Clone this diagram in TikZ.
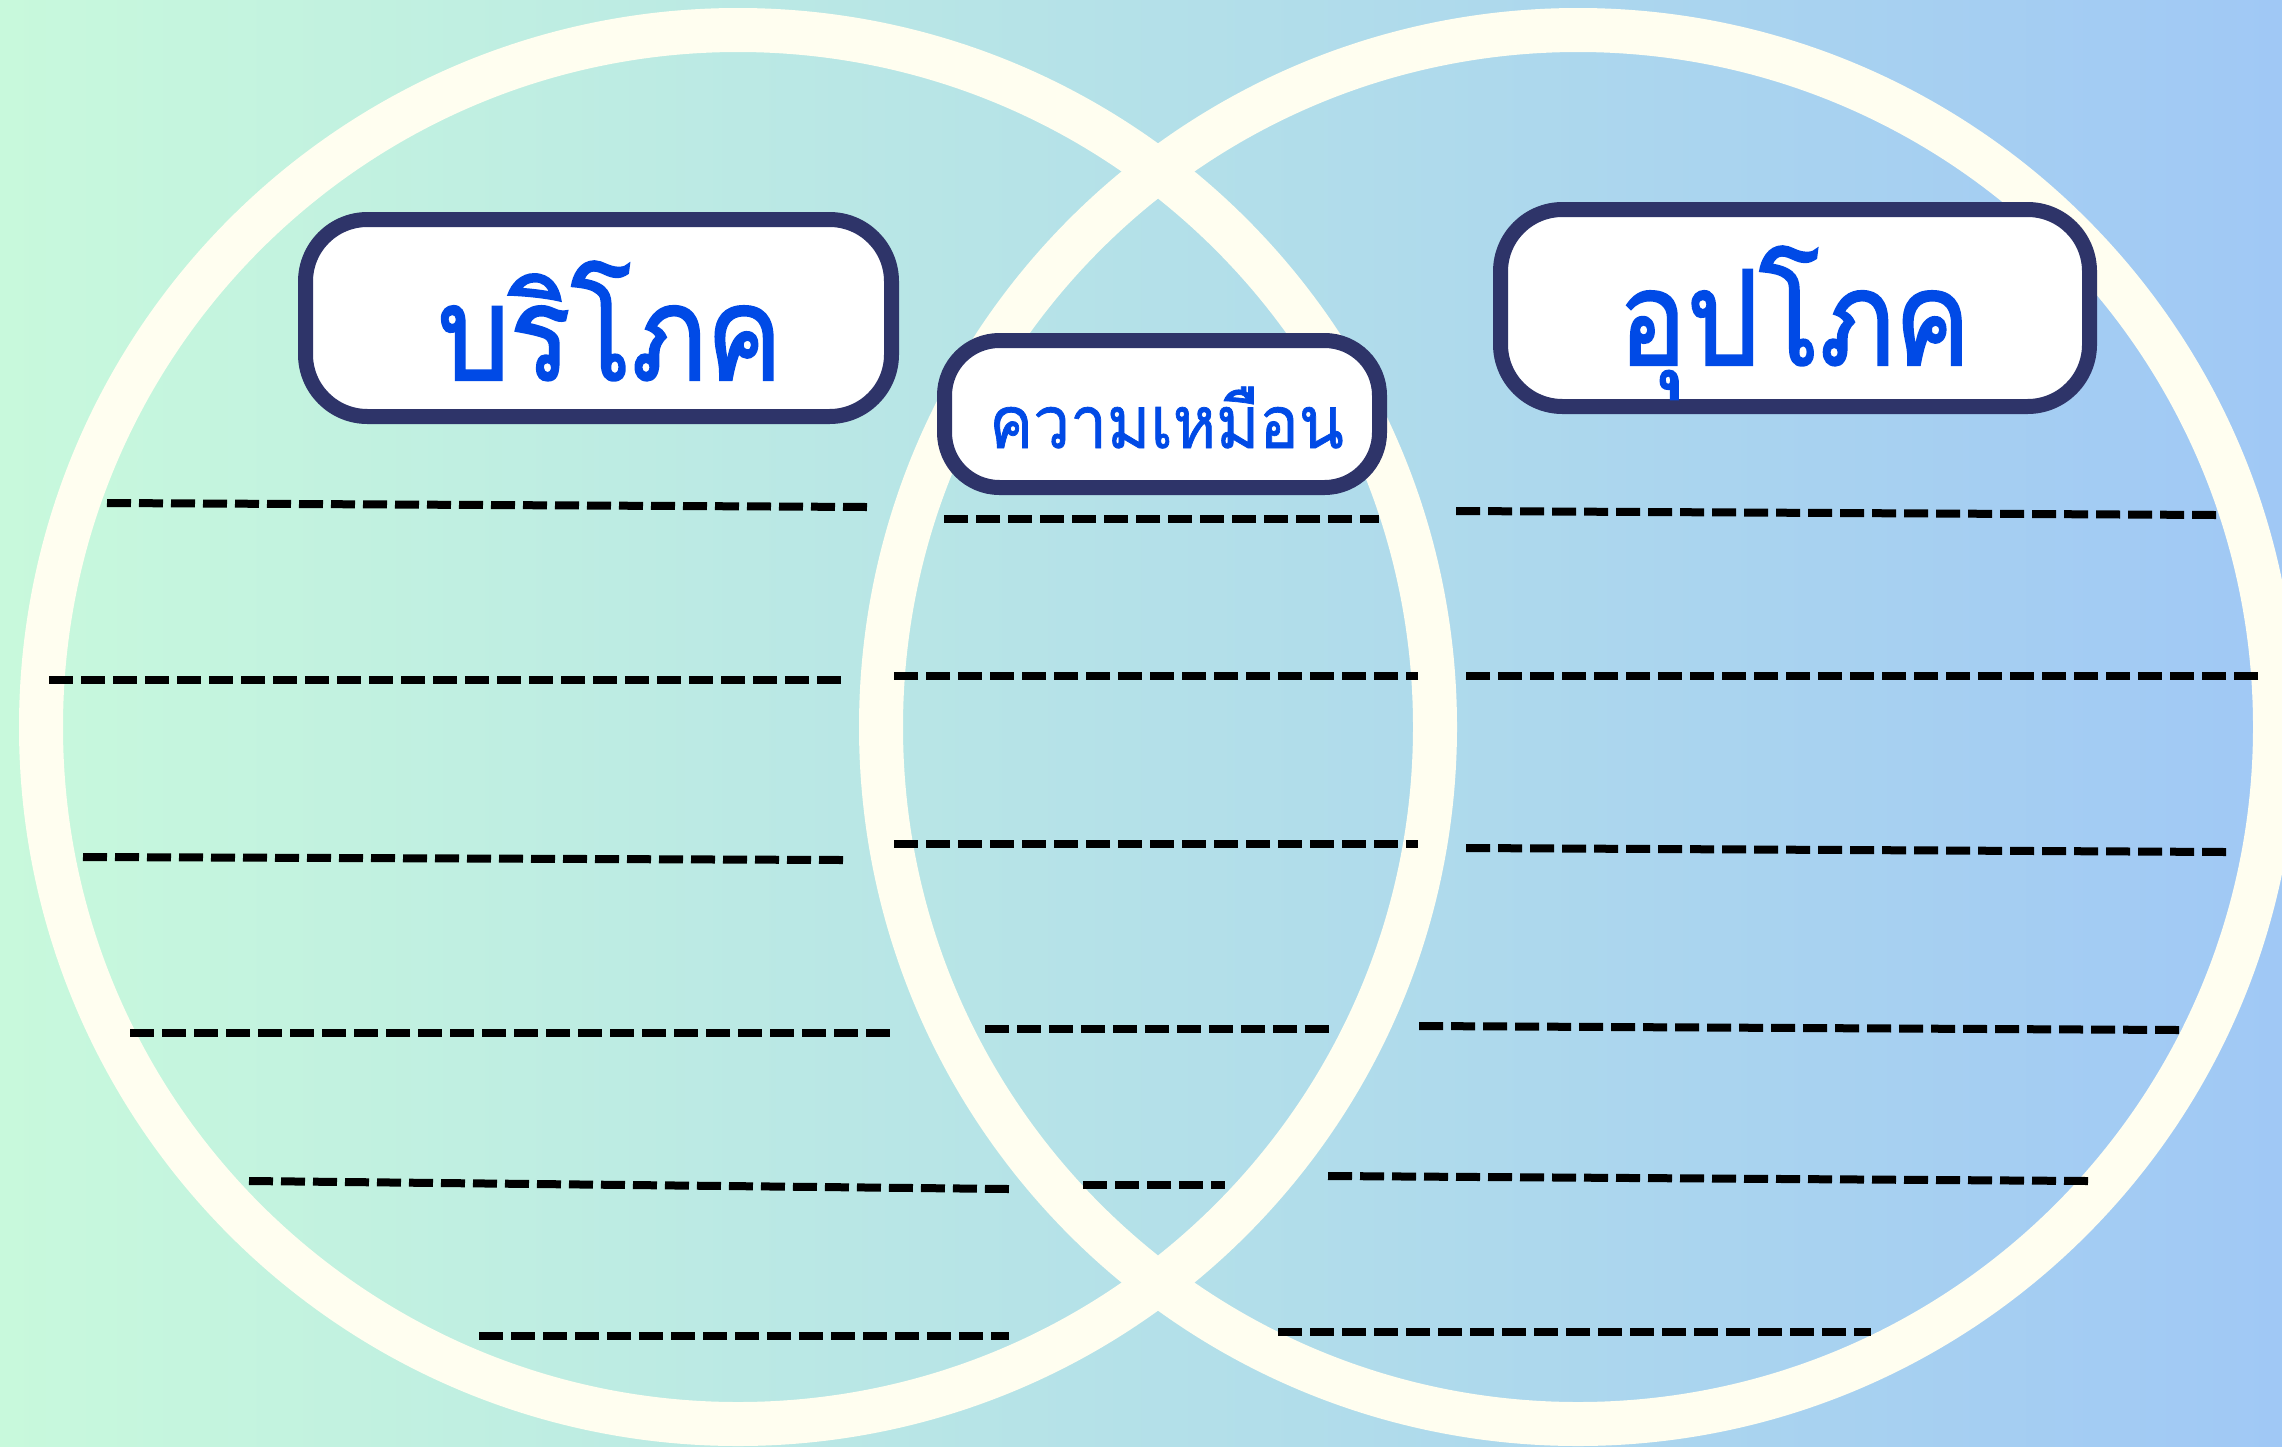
\documentclass[tikz,border=0pt]{standalone}
\usepackage{fontspec}
\newfontfamily\thaifont[Script=Thai,FakeStretch=0.9,FakeBold=1]{Loma}
\newfontfamily\thaititlefont[Script=Thai,FakeStretch=0.86,FakeBold=1.5]{Loma}
\definecolor{bgleft}{RGB}{200,249,220}
\definecolor{bgright}{RGB}{160,200,245}
\colorlet{ringcol}{white!94!yellow}
\definecolor{boxcol}{RGB}{46,52,105}
\definecolor{textcol}{RGB}{0,74,230}
\tikzstyle{ring}=[draw=ringcol, line width=44pt]
\tikzstyle{rule}=[line width=8pt, black, dash pattern=on 24pt off 8pt]
\tikzstyle{titlebox}=[draw=boxcol, line width=15pt, fill=white, inner sep=0pt]
\tikzstyle{titletext}=[textcol, inner sep=0pt, anchor=base]

\begin{document}
\begin{tikzpicture}[x=1pt, y=-1pt]
			\fill[left color=bgleft, right color=bgright] (0,0) rectangle (2282,1446);
			\useasboundingbox (0,0) rectangle (2282,1446);

			% Circles
			\draw[ring] (738,727) circle (697);
			\draw[ring] (1578,727) circle (697);

			\coordinate (l1a) at (107,503);  \coordinate (l1b) at (867,507);
			\coordinate (l2a) at (49,680);   \coordinate (l2b) at (841,680);
			\coordinate (l3a) at (83,857);   \coordinate (l3b) at (843,860);
			\coordinate (l4a) at (130,1033); \coordinate (l4b) at (891,1033);
			\coordinate (l5a) at (249,1181); \coordinate (l5b) at (1009,1189);
			\coordinate (l6a) at (479,1336); \coordinate (l6b) at (1009,1336);
			\coordinate (m1a) at (944,519);  \coordinate (m1b) at (1379,519);
			\coordinate (m2a) at (894,676);  \coordinate (m2b) at (1418,676);
			\coordinate (m3a) at (894,844);  \coordinate (m3b) at (1418,844);
			\coordinate (m4a) at (985,1029); \coordinate (m4b) at (1330,1029);
			\coordinate (m5a) at (1083,1185); \coordinate (m5b) at (1225,1185);
			\coordinate (r1a) at (1456,511); \coordinate (r1b) at (2216,515);
			\coordinate (r2a) at (1466,676); \coordinate (r2b) at (2258,676);
			\coordinate (r3a) at (1466,848); \coordinate (r3b) at (2226,852);
			\coordinate (r4a) at (1419,1026); \coordinate (r4b) at (2179,1030);
			\coordinate (r5a) at (1328,1176); \coordinate (r5b) at (2088,1181);
			\coordinate (r6a) at (1278,1332); \coordinate (r6b) at (1871,1332);

			% Left lines
			\draw[rule] (l1a)edge(l1b) (l2a)edge(l2b) (l3a)edge(l3b) (l4a)edge(l4b) (l5a)edge(l5b) (l6a)edge(l6b);
			% Middle lines
			\draw[rule] (m1a)edge(m1b) (m2a)edge(m2b) (m3a)edge(m3b) (m4a)edge(m4b) (m5a)edge(m5b);
			% Right lines
			\draw[rule] (r1a)edge(r1b) (r2a)edge(r2b) (r3a)edge(r3b) (r4a)edge(r4b) (r5a)edge(r5b) (r6a)edge(r6b);

			% Headings
			\node[titlebox, rounded corners=62pt, minimum width=586pt, minimum height=197pt] (consumebox) at (598.5,318) {};
			\node[titlebox, rounded corners=55pt, minimum width=435pt, minimum height=147pt] (samebox) at (1162,414) {};
			\node[titlebox, rounded corners=62pt, minimum width=589pt, minimum height=197pt] (durablebox) at (1795,308) {};
			\node[titletext, font=\thaititlefont\fontsize{132pt}{132pt}\selectfont] (consume) at (610,380) {บริโภค};
			\node[titletext, font=\thaifont\fontsize{73pt}{73pt}\selectfont] (same) at (1166.5,448) {ความเหมือน};
			\node[titletext, font=\thaititlefont\fontsize{132pt}{132pt}\selectfont] (durable) at (1794.5,365) {อุปโภค};
		\end{tikzpicture}
\end{document}
